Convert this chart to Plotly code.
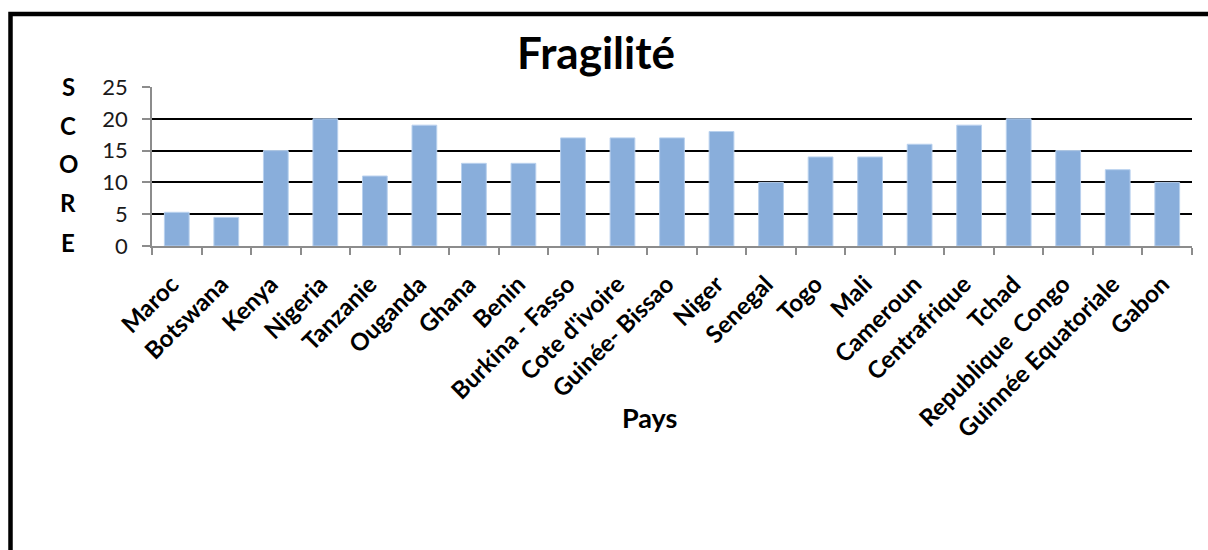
import plotly.graph_objects as go

categories = ["Maroc", "Botswana", "Kenya", "Nigeria", "Tanzanie", "Ouganda", "Ghana",
              "Benin", "Burkina - Fasso", "Cote d'ivoire", "Guinée- Bissao", "Niger",
              "Senegal", "Togo", "Mali", "Cameroun", "Centrafrique", "Tchad",
              "Republique  Congo", "Guinnée Equatoriale", "Gabon"]
scores = [5.3, 4.5, 15, 20, 11, 19, 13, 13, 17, 17, 17, 18, 10, 14, 14, 16, 19, 20, 15, 12, 10]
y_ticks = [0, 5, 10, 15, 20, 25]

W, H = 1208, 550
L, R, T, B = 152, 16, 87, 304
pw = W - L - R
ph = H - T - B

def px_x(p):
    return (p - L) / pw

def px_y(p):
    return (H - B - p) / ph

FONT = "Lato"

fig = go.Figure()
fig.add_trace(go.Bar(
    x=categories, y=scores,
    marker=dict(color="#89AEDB", line=dict(color="#B9D1EE", width=1)),
    width=0.5,
    hoverinfo="x+y",
))

annotations = []
for letter, yp in zip("SCORE", [86, 125, 163, 202, 242]):
    annotations.append(dict(
        text=f"<b>{letter}</b>", x=px_x(68), y=px_y(yp), xref="paper", yref="paper",
        xanchor="center", yanchor="middle", showarrow=False,
        font=dict(family=FONT, size=24, color="#000000"),
    ))
annotations.append(dict(
    text="<b>Pays</b>", x=px_x(649), y=px_y(418), xref="paper", yref="paper",
    xanchor="center", yanchor="middle", showarrow=False,
    font=dict(family=FONT, size=27, color="#000000"),
))

fig.update_layout(
    width=W, height=H, autosize=False,
    margin=dict(l=L, r=R, t=T, b=B, pad=0),
    paper_bgcolor="white", plot_bgcolor="white",
    showlegend=False,
    title=dict(text="<b>Fragilité</b>", x=596 / W, y=1 - 54 / H,
               xref="container", yref="container",
               xanchor="center", yanchor="middle",
               font=dict(family=FONT, size=44, color="#000000")),
    annotations=annotations,
    shapes=[dict(type="rect", xref="paper", yref="paper",
                 x0=px_x(10.5), x1=px_x(1230), y0=px_y(14), y1=px_y(600),
                 line=dict(color="black", width=4.5), fillcolor="rgba(0,0,0,0)", layer="above")],
    xaxis=dict(
        type="category", tickangle=-45,
        tickfont=dict(family=FONT, size=24, color="#000000", weight="bold"),
        showgrid=False, showline=True, linecolor="#8C8C8C", linewidth=1.5,
        ticks="outside", tickson="boundaries", ticklen=7, tickcolor="#8C8C8C", tickwidth=1.5,
        ticklabelstandoff=13, ticklabelshift=-5,
        range=[-0.5, len(categories) - 0.5],
    ),
    yaxis=dict(
        range=[0, 25], tickvals=y_ticks,
        tickfont=dict(family=FONT, size=22, color="#1A1A1A"),
        showgrid=True, gridcolor="#000000", gridwidth=1.5,
        showline=True, linecolor="#8C8C8C", linewidth=1.5,
        ticks="outside", ticklen=8, tickcolor="#8C8C8C", tickwidth=1.5,
        ticklabelstandoff=10, zeroline=False,
    ),
)

fig.write_html("out.html", config={"displayModeBar": False},
               post_script="document.body.style.margin='0px';document.body.style.overflow='hidden';")
